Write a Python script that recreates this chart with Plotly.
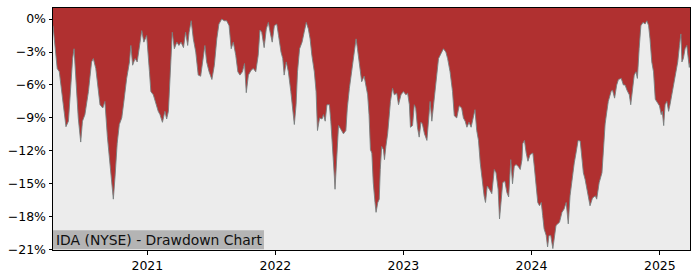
import pandas as pd
import plotly.graph_objects as go

START_DATE = "2020-04-07"

# days since START_DATE
day_offsets = [
    0, 6, 12, 18, 25, 31, 37, 44, 50, 56,
    60, 66, 72, 79, 84, 91, 101, 110, 115, 122,
    126, 134, 142, 148, 155, 161, 167, 172, 177, 183,
    189, 196, 202, 210, 218, 222, 227, 234, 240, 246,
    253, 259, 267, 275, 279, 286, 294, 300, 305, 312,
    319, 324, 329, 334, 340, 346, 353, 359, 365, 372,
    378, 384, 388, 394, 400, 407, 414, 421, 429, 433,
    438, 445, 453, 460, 467, 473, 481, 488, 495, 502,
    508, 514, 521, 527, 533, 540, 546, 551, 557, 565,
    571, 578, 585, 590, 595, 602, 608, 614, 619, 625,
    631, 638, 643, 650, 655, 659, 665, 671, 678, 684,
    688, 693, 697, 703, 710, 716, 722, 728, 733, 738,
    745, 750, 754, 760, 767, 771, 776, 781, 788, 792,
    798, 802, 804, 809, 814, 820, 828, 835, 839, 845,
    852, 858, 864, 868, 874, 880, 887, 893, 897, 901,
    905, 909, 913, 918, 921, 926, 930, 933, 937, 942,
    945, 949, 954, 958, 962, 968, 973, 980, 985, 992,
    999, 1006, 1011, 1016, 1019, 1025, 1030, 1034, 1039, 1044,
    1049, 1053, 1059, 1066, 1070, 1075, 1080, 1084, 1089, 1094,
    1099, 1106, 1113, 1120, 1125, 1132, 1139, 1144, 1151, 1158,
    1165, 1170, 1175, 1180, 1186, 1192, 1199, 1201, 1203, 1208,
    1213, 1218, 1223, 1229, 1233, 1238, 1244, 1251, 1258, 1263,
    1269, 1273, 1278, 1282, 1288, 1294, 1299, 1305, 1310, 1315,
    1320, 1326, 1332, 1337, 1339, 1344, 1349, 1354, 1360, 1368,
    1372, 1377, 1382, 1387, 1392, 1396, 1400, 1406, 1410, 1414,
    1419, 1425, 1430, 1434, 1439, 1444, 1451, 1457, 1463, 1469,
    1474, 1480, 1486, 1491, 1497, 1503, 1508, 1512, 1517, 1525,
    1531, 1538, 1546, 1550, 1557, 1565, 1570, 1574, 1579, 1583,
    1591, 1595, 1601, 1607, 1612, 1620, 1626, 1631, 1636, 1643,
    1647, 1652, 1657, 1662, 1666, 1671, 1676, 1682, 1688, 1693,
    1698, 1702, 1707, 1712, 1717, 1723, 1729, 1734, 1737, 1741,
    1745, 1750, 1755, 1759, 1766, 1772, 1776, 1781, 1786, 1790,
    1793, 1797, 1802, 1807, 1810, 1814, 1816,
]

# drawdown in percent
drawdown = [
    -0.6, -2.4, -4.5, -4.8, -6.6, -7.8, -9.8, -9.3, -6.3, -3.6,
    -2.7, -6.3, -9.0, -11.2, -9.3, -8.7, -6.6, -3.9, -3.6, -4.5,
    -5.7, -7.8, -8.1, -7.5, -10.7, -12.8, -14.9, -16.4, -14.3, -11.3,
    -9.6, -9.0, -7.5, -5.4, -3.9, -2.4, -4.2, -3.6, -3.9, -2.7,
    -1.05, -2.1, -1.5, -4.8, -6.6, -6.9, -7.8, -8.4, -8.7, -9.4,
    -8.4, -9.1, -8.4, -4.8, -1.2, -2.7, -2.1, -2.4, -2.1, -2.6,
    -1.2, -2.4, -1.2, -0.15, -1.8, -3.0, -5.1, -5.2, -3.6, -2.4,
    -3.9, -4.8, -5.5, -4.2, -1.8, -0.45, 0.0, -0.15, -0.15, -0.6,
    -2.7, -2.1, -3.3, -4.8, -5.1, -4.8, -4.05, -6.7, -5.1, -4.65,
    -4.5, -4.8, -3.3, -1.0, -1.2, -2.6, -0.9, -0.3, -1.2, -2.1,
    -0.6, -0.45, -1.5, -3.0, -3.6, -5.1, -3.9, -4.8, -6.6, -8.4,
    -9.6, -7.8, -4.8, -2.7, -2.1, -1.2, -0.3, -0.9, -1.8, -3.3,
    -4.8, -6.6, -10.15, -9.0, -9.1, -8.7, -9.3, -7.8, -7.8, -9.3,
    -11.9, -14.3, -15.5, -12.8, -9.7, -10.0, -10.45, -10.15, -8.1, -6.3,
    -4.8, -3.3, -1.8, -2.7, -4.2, -5.7, -5.2, -6.3, -6.9, -8.7,
    -11.9, -12.2, -14.9, -16.7, -17.6, -16.7, -16.4, -13.7, -11.6, -11.9,
    -12.8, -11.6, -10.45, -9.0, -7.5, -6.3, -6.9, -6.75, -7.8, -6.9,
    -6.6, -6.9, -6.75, -7.8, -9.85, -9.7, -7.8, -8.1, -9.85, -10.75,
    -9.4, -9.55, -10.45, -11.05, -9.3, -7.5, -9.3, -8.1, -6.9, -5.1,
    -3.6, -3.15, -2.7, -3.0, -3.6, -4.8, -6.6, -8.8, -9.0, -7.9,
    -8.1, -9.0, -9.3, -9.85, -9.4, -9.85, -8.7, -8.4, -8.25, -10.15,
    -11.05, -13.1, -14.6, -16.1, -16.7, -15.2, -15.5, -15.9, -13.7, -14.0,
    -15.5, -18.2, -16.4, -14.9, -14.75, -15.8, -16.2, -12.8, -15.0, -13.4,
    -13.25, -13.4, -13.7, -12.8, -11.35, -11.05, -12.2, -12.95, -12.35, -12.2,
    -13.4, -14.9, -16.7, -17.0, -16.7, -17.9, -19.1, -19.7, -20.75, -19.7,
    -19.7, -20.9, -19.7, -18.8, -18.65, -18.5, -17.6, -17.3, -16.7, -18.65,
    -16.1, -14.3, -13.1, -12.2, -11.05, -11.1, -12.5, -14.0, -14.6, -16.1,
    -17.0, -16.3, -16.1, -16.4, -14.9, -14.0, -11.65, -9.55, -8.4, -7.5,
    -6.6, -6.45, -7.2, -6.0, -5.5, -5.4, -6.0, -6.0, -6.45, -6.9,
    -7.8, -6.6, -5.1, -4.8, -5.4, -2.7, -0.6, -0.3, -0.45, -0.15,
    -0.6, -1.8, -3.9, -4.8, -7.3, -7.6, -7.9, -8.7, -8.4, -9.7,
    -7.8, -7.5, -8.4, -7.8, -6.6, -5.8, -4.8, -3.9, -2.4, -1.35,
    -3.9, -3.6, -2.7, -2.4, -3.3, -4.4, -4.0,
]

y_ticks = [0, -3, -6, -9, -12, -15, -18, -21]
y_tick_labels = ["0%", "\u22123%", "\u22126%", "\u22129%", "\u221212%",
                 "\u221215%", "\u221218%", "\u221221%"]
x_ticks = ["2021-01-01", "2022-01-01", "2023-01-01", "2024-01-01", "2025-01-01"]
x_tick_labels = ["2021", "2022", "2023", "2024", "2025"]
title_text = "IDA (NYSE) - Drawdown Chart"

n = min(len(day_offsets), len(drawdown))
dates = pd.Timestamp(START_DATE) + pd.to_timedelta(day_offsets[:n], unit="D")
vals = drawdown[:n]

RED = "#b03030"
LIGHT = "#ececec"
FONT = "DejaVu Sans"

fig = go.Figure()
fig.add_trace(go.Scatter(x=dates, y=[-40] * n, mode="lines",
                         line=dict(width=0, color=LIGHT), showlegend=False,
                         hoverinfo="skip"))
fig.add_trace(go.Scatter(x=dates, y=vals, mode="lines", fill="tonexty",
                         fillcolor=LIGHT,
                         line=dict(color="rgba(120,128,128,0.9)", width=1),
                         showlegend=False))

fig.add_shape(type="rect", xref="paper", yref="paper", x0=0, x1=0.3312,
              y0=0.003, y1=0.0813, fillcolor="#b4b4b4", line=dict(width=0),
              layer="above")
fig.add_annotation(text=title_text, xref="paper", yref="paper", x=0, y=0.042,
                   xanchor="left", yanchor="middle", xshift=1, showarrow=False,
                   font=dict(family=FONT, size=13.9, color="#111111"))

fig.update_layout(
    width=700, height=280,
    margin=dict(l=53, r=10, t=7, b=27),
    paper_bgcolor="white",
    plot_bgcolor=RED,
    font=dict(family=FONT, size=12.5, color="black"),
    showlegend=False,
)
fig.update_xaxes(
    type="date", range=["2020-04-07", "2025-03-28"],
    tickvals=x_ticks, ticktext=x_tick_labels,
    showgrid=False, zeroline=False,
    showline=True, linecolor="black", linewidth=1, mirror=True,
    ticks="outside", ticklen=3.5, tickwidth=1, tickcolor="black",
)
fig.update_yaxes(
    range=[-21.03, 1.01],
    tickvals=y_ticks, ticktext=y_tick_labels,
    showgrid=False, zeroline=False,
    showline=True, linecolor="black", linewidth=1, mirror=True,
    ticks="outside", ticklen=3.5, tickwidth=1, tickcolor="black",
)

fig.write_html("out.html")
